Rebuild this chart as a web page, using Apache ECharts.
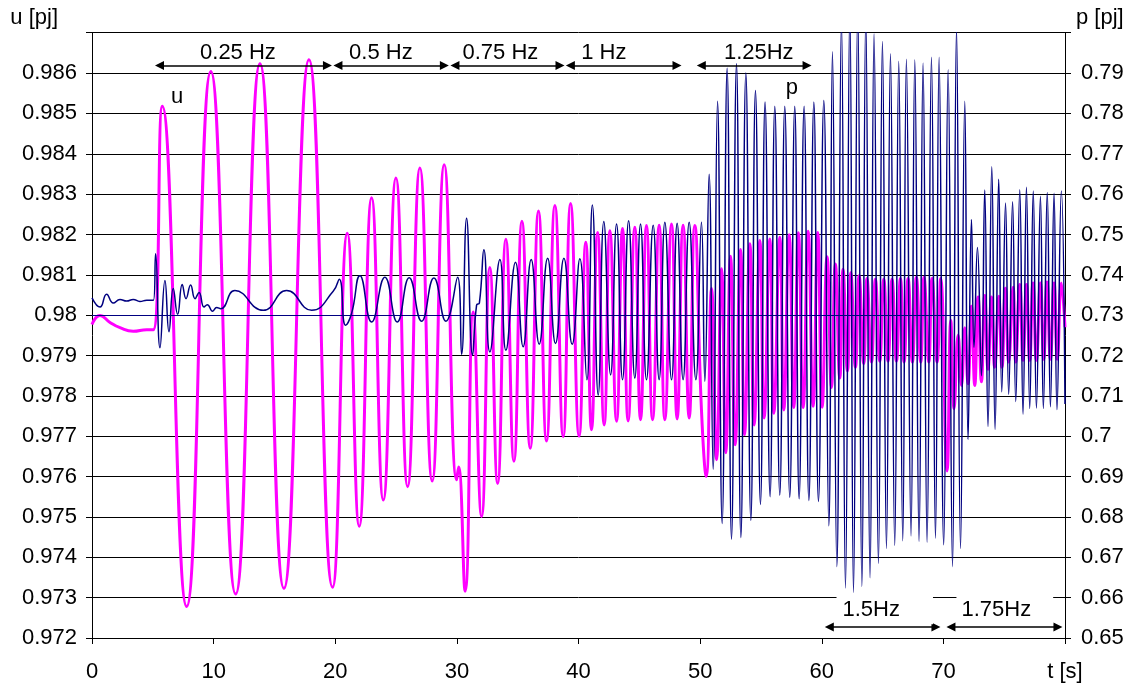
<!DOCTYPE html>
<html><head><meta charset="utf-8">
<script src="https://cdn.jsdelivr.net/npm/echarts/dist/echarts.min.js"></script>
<style>html,body{margin:0;padding:0;background:#fff}#c{width:1129px;height:683px}</style>
</head><body><div id="c"></div>
<script>
// ---- data ----
const uTime = [0,0.66,1.48,2.30,3.39,4.50,5.04,5.78,7.78,9.77,11.81,13.81,15.78,17.84,19.78,
20.99,21.97,22.99,23.95,24.99,25.95,26.96,27.97,28.96,29.98,30.14,30.68,
31.34,32.03,32.71,33.35,34.03,34.69,35.35,36.03,36.71,37.37,38.06,38.74,39.35,
40.05,40.60,41.07,41.57,42.11,42.58,43.13,43.62,44.08,44.63,45.10,45.59,46.09,46.63,47.10,47.65,48.11,48.60,49.10,49.56,
50.11,50.50,50.94,51.35,51.76,52.11,52.50,52.88,53.32,53.65,54.09,54.44,54.91,55.26,55.73,56.06,56.55,56.88,57.32,57.70,58.08,58.47,58.88,59.29,59.67,
60.03,60.44,60.80,61.12,61.48,61.75,62.11,62.39,62.77,63.07,63.45,63.72,64.09,64.41,64.77,65.10,65.45,65.78,66.14,66.47,66.77,67.10,67.45,67.78,68.14,68.41,68.80,69.07,69.48,69.78,
70.30,70.61,70.88,71.21,71.49,71.76,72.03,72.31,72.58,72.85,73.13,73.40,73.67,73.95,74.22,74.55,74.82,75.10,75.37,75.73,75.95,76.28,76.55,76.83,77.10,77.37,77.65,77.98,78.25,78.52,78.80,79.10,79.37,79.70,80];
const uVal = [0.97977,0.97999,0.97982,0.97969,0.97960,0.97964,0.97964,0.98518,0.97278,0.98604,0.97309,0.98623,0.97323,0.98633,0.97326,
0.98203,0.97477,0.98291,0.97542,0.98340,0.97575,0.98365,0.97589,0.98373,0.97592,0.97624,0.97316,
0.98008,0.97501,0.98118,0.97583,0.98188,0.97638,0.98233,0.97670,0.98258,0.97688,0.98272,0.97699,0.98277,
0.97700,0.98181,0.97716,0.98205,0.97728,0.98209,0.97737,0.98215,0.97738,0.98218,0.97741,0.98222,0.97741,0.98223,0.97741,0.98226,0.97743,0.98223,0.97745,0.98222,
0.97765,0.97600,0.98066,0.97642,0.98115,0.97659,0.98146,0.97679,0.98163,0.97704,0.98177,0.97728,0.98185,0.97745,0.98189,0.97757,0.98193,0.97765,0.98199,0.97771,0.98204,0.97771,0.98208,0.97774,0.98205,
0.97772,0.98145,0.97821,0.98127,0.97844,0.98114,0.97862,0.98105,0.97871,0.98098,0.97880,0.98091,0.97884,0.98089,0.97886,0.98089,0.97886,0.98089,0.97886,0.98091,0.97884,0.98091,0.97884,0.98094,0.97884,0.98094,0.97884,0.98091,0.97884,0.98091,
0.97614,0.97987,0.97768,0.97951,0.97826,0.97969,0.97830,0.98022,0.97826,0.98045,0.97835,0.98049,0.97866,0.98045,0.97871,0.98047,0.97871,0.98067,0.97884,0.98069,0.97884,0.98076,0.97888,0.98076,0.97888,0.98080,0.97888,0.98080,0.97891,0.98082,0.97891,0.98080,0.97891,0.98080,0.97970];

const pTime = [0,0.66,1.20,1.75,2.30,2.85,3.39,3.94,4.50,5.05,5.23,5.59,6.00,6.33,6.68,7.04,7.42,7.73,8.11,8.47,8.80,9.21,9.48,9.92,10.25,10.58,
11.75,14.08,16.00,18.06,19.83,20.33,20.85,21.34,22.03,22.99,24.08,25.10,26.08,27.10,28.11,29.10,30.06,30.39,30.80,31.29,31.62,31.85,
32.22,32.71,33.54,34.03,34.82,35.45,36.11,36.77,37.46,38.11,38.80,39.48,40.11,40.69,41.14,41.62,42.08,42.64,43.13,43.62,44.12,44.63,45.10,45.59,46.14,46.63,47.10,47.65,48.11,48.60,49.10,49.65,50.11,50.39,
50.74,51.07,51.43,51.81,52.22,52.58,52.99,53.35,53.76,54.17,54.55,54.96,55.34,55.75,56.14,56.55,56.96,57.37,57.78,58.14,58.55,58.94,59.35,59.73,60.17,60.58,
60.88,61.24,61.62,61.95,62.31,62.61,62.96,63.30,63.62,63.97,64.30,64.66,64.99,65.32,65.65,66.00,66.33,66.66,66.96,67.34,67.65,68.00,68.33,68.66,69.02,69.35,69.65,70.03,70.39,70.75,71.08,71.41,71.76,72.03,
72.31,72.52,72.80,73.13,73.40,73.67,73.98,74.25,74.55,74.80,75.11,75.37,75.69,75.95,76.28,76.55,76.83,77.10,77.39,77.65,77.98,78.22,78.54,78.80,79.10,79.34,79.70,80];
const pVal = [0.7343,0.7320,0.7352,0.7330,0.7339,0.7335,0.7339,0.7334,0.7337,0.7337,0.7452,0.7219,0.7386,0.7259,0.7366,0.7302,0.7376,0.7341,0.7375,0.7341,0.7356,0.7320,0.7326,0.7310,0.7319,0.7316,
0.7361,0.7312,0.7361,0.7312,0.7359,0.7389,0.7275,0.7304,0.7398,0.7283,0.7394,0.7283,0.7393,0.7285,0.7392,0.7285,0.7394,0.7203,0.7540,0.7201,0.7325,0.7330,
0.7462,0.7209,0.7438,0.7213,0.7431,0.7222,0.7438,0.7228,0.7441,0.7230,0.7441,0.7228,0.7440,0.7140,0.7573,0.7102,0.7532,0.7152,0.7526,0.7140,0.7534,0.7144,0.7526,0.7140,0.7523,0.7140,0.7530,0.7140,0.7528,0.7140,0.7530,0.7140,0.7530,0.7136,
0.7649,0.6918,0.7830,0.6784,0.7912,0.6745,0.7923,0.6749,0.7900,0.6792,0.7857,0.6831,0.7828,0.6850,0.7818,0.6854,0.7818,0.6849,0.7818,0.6845,0.7818,0.6841,0.7828,0.6838,0.7832,0.6778,
0.7953,0.6677,0.8030,0.6624,0.8060,0.6613,0.8060,0.6628,0.8040,0.6649,0.7997,0.6685,0.7978,0.6722,0.7948,0.6729,0.7929,0.6741,0.7934,0.6753,0.7933,0.6739,0.7925,0.6737,0.7939,0.6747,0.7939,0.6731,0.7908,0.6677,0.8010,0.6722,0.7830,0.6992,
0.7537,0.7220,0.7468,0.7150,0.7610,0.7024,0.7668,0.7017,0.7637,0.7110,0.7578,0.7104,0.7581,0.7086,0.7611,0.7055,0.7617,0.7069,0.7608,0.7070,0.7595,0.7069,0.7604,0.7073,0.7602,0.7066,0.7608,0.7080];

const xTickLabels = ['0','10','20','30','40','50','60','70','t [s]'];
const uTickLabels = ['0.972','0.973','0.974','0.975','0.976','0.977','0.978','0.979','0.98','0.981','0.982','0.983','0.984','0.985','0.986',''];
const pTickLabels = ['0.65','0.66','0.67','0.68','0.69','0.7','0.71','0.72','0.73','0.74','0.75','0.76','0.77','0.78','0.79',''];
const uRef = 0.97982;
const pRef = 0.7337;
const bandNames = ['0.25 Hz','0.5 Hz','0.75 Hz','1 Hz','1.25Hz','1.5Hz','1.75Hz'];
const bandStart = [5.18,19.85,29.47,38.96,49.73,60.25,70.25];
const bandEnd   = [19.73,29.34,38.85,48.47,59.16,69.76,79.79];

// ---- chart ----
const FONT = '"Liberation Sans", Arial, sans-serif';
const chart = echarts.init(document.getElementById('c'), null, {renderer:'canvas'});
const zip = (a,b) => a.map((t,i)=>[t,b[i]]);

const topY = 0.98619, botY = 0.97227, inset = 0.37;
const arrowData = bandNames.map((n,i)=>{
  const y = i < 5 ? topY : botY;
  return [{coord:[bandStart[i]+inset, y]},{coord:[bandEnd[i]-inset, y]}];
});
const labelPos = [[12.0,0.98650],[23.75,0.98650],[33.58,0.98650],[42.08,0.98650],[54.82,0.98650],[65.18,0.97269],[75.05,0.97269]];
const labelData = bandNames.map((n,i)=>{
  const d = {name:n, value:labelPos[i]};
  if (i===5) d.label = {backgroundColor:'#fff', padding:[4,33,2,6]};
  if (i===6) d.label = {backgroundColor:'#fff', padding:[4,22,2,5]};
  return d;
});
labelData.push({name:'u', value:[6.99,0.98541]});
labelData.push({name:'p', value:[57.54,0.98562]});

const axisTxt = {fontSize:22, color:'#000', fontFamily:FONT};

chart.setOption({
  animation:false,
  backgroundColor:'#fff',
  textStyle:{fontFamily:FONT},
  grid:{left:92, right:64, top:32.7, bottom:42, containLabel:false},
  xAxis:{
    type:'value', min:0, max:80, interval:10,
    axisLine:{show:true, onZero:false, lineStyle:{color:'#000', width:1}},
    axisTick:{show:true, length:6, lineStyle:{color:'#000'}},
    axisLabel:Object.assign({margin:23, formatter:v=>xTickLabels[Math.round(v/10)] ?? ''}, axisTxt),
    splitLine:{show:false}
  },
  yAxis:[{
    type:'value', min:0.972, max:0.987, interval:0.001, position:'left',
    name:'u [pj]', nameLocation:'end', nameGap:4,
    nameTextStyle:Object.assign({align:'right', padding:[0,34,0,0]}, axisTxt),
    axisLine:{show:true, lineStyle:{color:'#000', width:1}},
    axisTick:{show:true, length:6, lineStyle:{color:'#000'}},
    axisLabel:Object.assign({margin:15, formatter:v=>uTickLabels[Math.round((v-0.972)/0.001)] ?? ''}, axisTxt),
    splitLine:{show:true, lineStyle:{color:'#000', width:1}}
  },{
    type:'value', min:0.65, max:0.80, interval:0.01, position:'right',
    name:'p [pj]', nameLocation:'end', nameGap:4,
    nameTextStyle:Object.assign({align:'left', padding:[0,0,0,11]}, axisTxt),
    axisLine:{show:true, lineStyle:{color:'#000', width:1}},
    axisTick:{show:true, length:6, lineStyle:{color:'#000'}},
    axisLabel:Object.assign({margin:16, formatter:v=>pTickLabels[Math.round((v-0.65)/0.01)] ?? ''}, axisTxt),
    splitLine:{show:false}
  }],
  series:[{
    name:'u', type:'line', yAxisIndex:0, data:zip(uTime,uVal), showSymbol:false, smooth:0.5,
    lineStyle:{color:'#FF00FF', width:3}, itemStyle:{color:'#FF00FF'}, silent:true, z:2,
    markLine:{silent:true, symbol:'none', label:{show:false}, lineStyle:{color:'#FF00FF', width:1, type:'solid'}, data:[{yAxis:uRef}]}
  },{
    name:'p', type:'line', yAxisIndex:1, data:zip(pTime,pVal), showSymbol:false, smooth:0.5,
    lineStyle:{color:'#000080', width:1.5}, itemStyle:{color:'#000080'}, silent:true, z:3,
    markLine:{silent:true, symbol:'none', label:{show:false}, lineStyle:{color:'#000080', width:1, type:'solid'}, data:[{yAxis:pRef}]}
  },{
    name:'notes', type:'scatter', yAxisIndex:0, symbolSize:0, silent:true, z:5,
    itemStyle:{opacity:1, color:'#000'},
    data:labelData,
    label:Object.assign({show:true, position:'inside', formatter:'{b}', opacity:1, textBorderWidth:0, textShadowBlur:0}, axisTxt),
    markLine:{silent:true, symbol:['triangle','triangle'], symbolSize:9, label:{show:false},
      lineStyle:{color:'#000', width:1.5, type:'solid', opacity:1}, itemStyle:{color:'#000'}, data:arrowData}
  }]
});
</script></body></html>
